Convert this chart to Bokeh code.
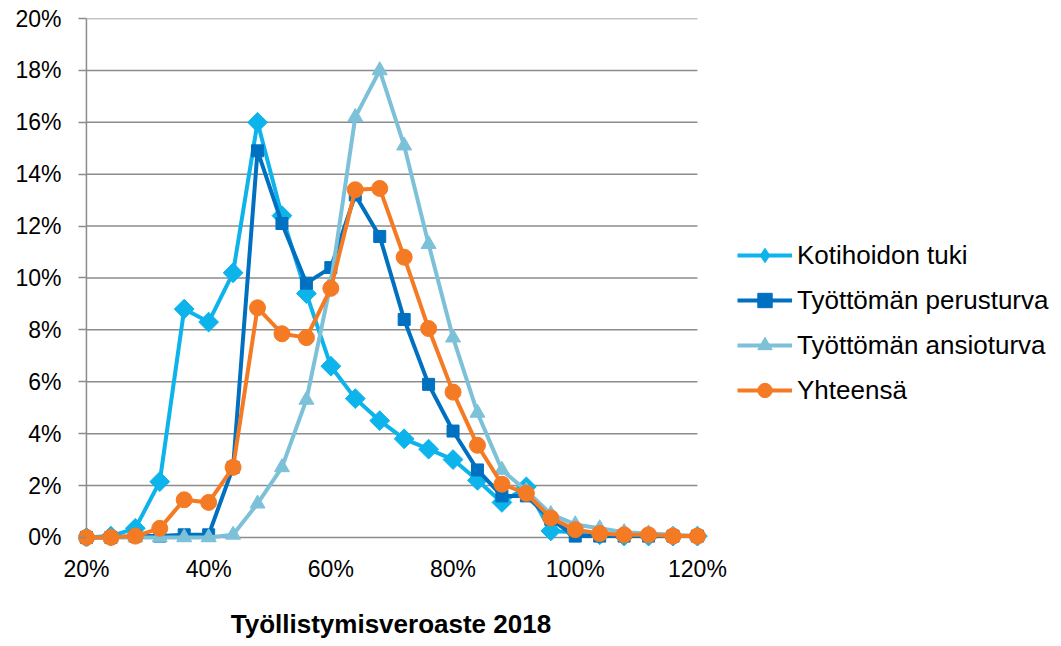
import math
from bokeh.plotting import figure
from bokeh.models import Legend, LegendItem, PrintfTickFormatter, FixedTicker, Range1d, Title
from bokeh.embed import file_html
from bokeh.resources import INLINE

x_pct = [20, 24, 28, 32, 36, 40, 44, 48, 52, 56, 60, 64, 68, 72, 76, 80, 84, 88, 92, 96, 100, 104, 108, 112, 116, 120]

kotihoidon_tuki = [0.0, 0.05, 0.35, 2.15, 8.8, 8.3, 10.2, 16.0, 12.4, 9.4, 6.6, 5.35, 4.5, 3.8, 3.4, 3.0,
                   2.2, 1.35, 1.95, 0.25, 0.2, 0.1, 0.05, 0.05, 0.05, 0.05]
perusturva = [0.0, 0.0, 0.05, 0.05, 0.1, 0.1, 2.7, 14.9, 12.1, 9.8, 10.4, 13.2, 11.6, 8.4, 5.9, 4.1,
              2.6, 1.6, 1.6, 0.7, 0.05, 0.05, 0.05, 0.05, 0.05, 0.05]
ansioturva = [0.0, 0.0, 0.0, 0.0, 0.0, 0.0, 0.1, 1.3, 2.7, 5.3, 9.8, 16.2, 18.0, 15.1, 11.3, 7.7,
              4.8, 2.6, 1.8, 0.9, 0.5, 0.35, 0.2, 0.15, 0.1, 0.05]
yhteensa = [0.0, 0.0, 0.05, 0.35, 1.45, 1.35, 2.7, 8.85, 7.85, 7.7, 9.6, 13.4, 13.45, 10.8, 8.05, 5.6,
            3.55, 2.05, 1.7, 0.75, 0.3, 0.15, 0.1, 0.1, 0.05, 0.05]

series_names = ["Kotihoidon tuki", "Työttömän perusturva", "Työttömän ansioturva", "Yhteensä"]
x_ticks = [20, 40, 60, 80, 100, 120]
y_ticks = [0, 2, 4, 6, 8, 10, 12, 14, 16, 18, 20]
x_title = "Työllistymisveroaste 2018"

FONT = "Liberation Sans"
GRID = "#8c8c8c"

x_min, x_max = x_ticks[0], x_ticks[-1]
y_min, y_max = y_ticks[0], y_ticks[-1]

PX_PER_UNIT = 6.11
FRAME_W = 980
X_LO = 18.7
X_HI = X_LO + FRAME_W / PX_PER_UNIT

# frame extends right to hold the legend, and slightly left/below so edge markers are not clipped
p = figure(frame_width=FRAME_W, frame_height=528, output_backend="svg", toolbar_location=None,
           x_range=Range1d(X_LO, X_HI), y_range=Range1d(-0.35, 20),
           min_border_left=78, min_border_right=0, min_border_top=18, min_border_bottom=96)
p.outline_line_color = None
p.background_fill_color = "white"
p.border_fill_color = "white"

p.xgrid.grid_line_color = None
p.ygrid.grid_line_color = None

# horizontal grid lines limited to the data extent
p.segment(x0=[x_min] * len(y_ticks), x1=[x_max] * len(y_ticks), y0=y_ticks, y1=y_ticks,
          line_color=GRID, line_width=1.5, level="underlay")
# vertical axis line at x = 20%
p.segment(x0=[x_min], x1=[x_min], y0=[y_min], y1=[y_max],
          line_color=GRID, line_width=1.5, level="underlay")

p.yaxis.ticker = FixedTicker(ticks=y_ticks)
p.xaxis.ticker = FixedTicker(ticks=x_ticks)
p.xaxis.formatter = PrintfTickFormatter(format="%d%%")
p.yaxis.formatter = PrintfTickFormatter(format="%d%%")

for ax in (p.xaxis, p.yaxis):
    ax.minor_tick_line_color = None
    ax.axis_line_color = None
    ax.major_label_text_font = FONT
    ax.major_label_text_font_size = "23px"
    ax.major_label_text_color = "black"

p.yaxis.major_tick_line_color = GRID
p.yaxis.major_tick_line_width = 1.5
p.yaxis.major_tick_out = 0
p.yaxis.major_tick_in = 8
p.yaxis.major_label_standoff = 17

p.xaxis.major_tick_line_color = None
p.xaxis.major_tick_out = 0
p.xaxis.major_tick_in = 0
p.xaxis.major_label_standoff = 9

# x-axis title, centred under the 20%..120% span (left aligned with a computed offset)
TITLE_PX = 26
title_width_est = 12.4 * TITLE_PX
data_center_px = ((x_min + x_max) / 2 - X_LO) * PX_PER_UNIT
title = Title(text=x_title, align="left", offset=data_center_px - title_width_est / 2,
              text_font=FONT, text_font_style="bold", text_font_size=f"{TITLE_PX}px",
              text_color="black", standoff=45)
p.add_layout(title, "below")

colors = ["#0DB4EC", "#0070C0", "#7DC1D9", "#F57A24"]
data = [kotihoidon_tuki, perusturva, ansioturva, yhteensa]
markers = ["square", "square", "triangle", "circle"]
legend_markers = ["diamond", "square", "triangle", "circle"]
sizes = [14, 12, 15, 16]
angles = [math.pi / 4, 0, 0, 0]

items = []
for name, ys, c, m, lm, s, a in zip(series_names, data, colors, markers, legend_markers, sizes, angles):
    ln = p.line(x_pct, ys, line_color=c, line_width=4)
    p.scatter(x_pct, ys, marker=m, size=s, angle=a, fill_color=c, line_color=c)
    key = p.scatter([float("nan")], [float("nan")], marker=lm, size=s, fill_color=c, line_color=c)
    items.append(LegendItem(label=name, renderers=[ln, key]))

legend = Legend(items=items, location=(659, 138))
legend.label_text_font = FONT
legend.label_text_font_size = "26px"
legend.label_text_color = "black"
legend.glyph_width = 55
legend.glyph_height = 36
legend.label_height = 36
legend.label_standoff = 5
legend.spacing = 9
legend.padding = 0
legend.margin = 0
legend.border_line_color = None
legend.background_fill_alpha = 0
p.add_layout(legend, "center")

open("out.html", "w").write(file_html(p, INLINE))
